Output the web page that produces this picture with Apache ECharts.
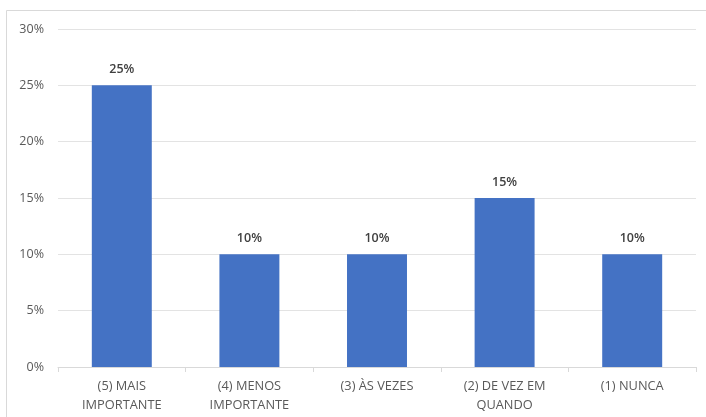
<!DOCTYPE html>
<html>
<head>
<meta charset="utf-8">
<script src="https://cdn.jsdelivr.net/npm/echarts@6/dist/echarts.min.js"></script>
<style>
  html, body { margin: 0; padding: 0; background: #ffffff; }
  #chart { width: 706px; height: 417px; }
</style>
</head>
<body>
<div id="chart"></div>
<script>
// Frequency answers, percent of respondents
const categories = ['(5) MAIS\nIMPORTANTE', '(4) MENOS\nIMPORTANTE', '(3) ÀS VEZES', '(2) DE VEZ EM\nQUANDO', '(1) NUNCA'];
const values = [25, 10, 10, 15, 10];
const yTicks = [0, 5, 10, 15, 20, 25, 30];

const FONT = '"Open Sans", "Liberation Sans", sans-serif';
const chart = echarts.init(document.getElementById('chart'), null, { renderer: 'canvas' });

chart.setOption({
  animation: false,
  backgroundColor: '#ffffff',
  graphic: [{
    type: 'rect',
    shape: { x: 6.5, y: 10.5, width: 720, height: 420 },
    style: { fill: 'none', stroke: '#d9d9d9', lineWidth: 1 },
    silent: true
  }],
  grid: { left: 58, right: 10, top: 29, bottom: 50, containLabel: false },
  xAxis: {
    type: 'category',
    data: categories,
    axisLine: { lineStyle: { color: '#d9d9d9', width: 1 } },
    axisTick: { show: true, alignWithLabel: false, length: 5, lineStyle: { color: '#d9d9d9' } },
    axisLabel: { color: '#595959', fontFamily: FONT, fontSize: 12.8, lineHeight: 19, margin: 10, interval: 0 }
  },
  yAxis: {
    type: 'value',
    min: yTicks[0],
    max: yTicks[yTicks.length - 1],
    interval: 5,
    axisLine: { show: false },
    axisTick: { show: false },
    splitLine: { lineStyle: { color: '#e3e3e3', width: 1 } },
    axisLabel: { color: '#595959', fontFamily: FONT, fontSize: 12.5, margin: 14, formatter: v => v + '%' }
  },
  series: [{
    type: 'bar',
    data: values,
    barCategoryGap: '53%',
    itemStyle: { color: '#4472c4' },
    label: {
      show: true,
      position: 'top',
      distance: 9,
      color: '#404040',
      fontFamily: FONT,
      fontSize: 12.5,
      fontWeight: 600,
      formatter: p => p.value + '%'
    }
  }]
});
</script>
</body>
</html>
